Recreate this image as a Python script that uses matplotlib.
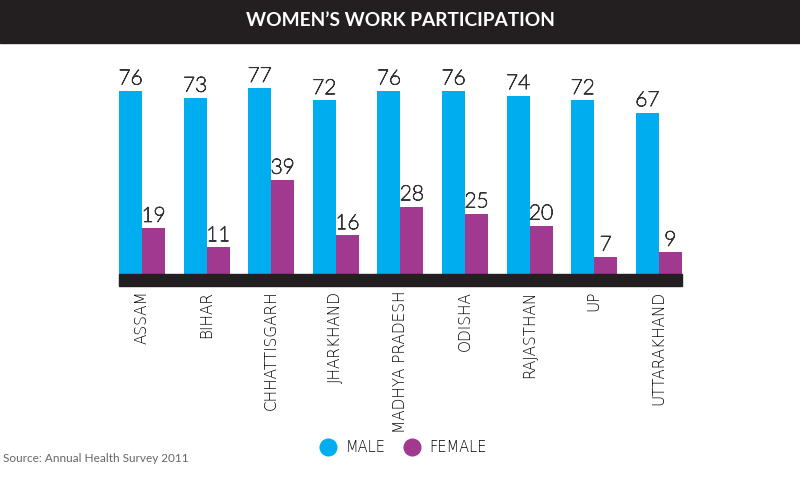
import matplotlib.pyplot as plt
import matplotlib.patheffects as pe
import numpy as np
from matplotlib.lines import Line2D
from matplotlib.patches import Rectangle

plt.rcParams['font.family'] = ['Lato', 'DejaVu Sans']

states = ['ASSAM', 'BIHAR', 'CHHATTISGARH', 'JHARKHAND', 'MADHYA PRADESH',
          'ODISHA', 'RAJASTHAN', 'UP', 'UTTARAKHAND']
male = [76, 73, 77, 72, 76, 76, 74, 72, 67]
female = [19, 11, 39, 16, 28, 25, 20, 7, 9]

male_col = '#00aeef'
female_col = '#a0398f'
dark = '#231f20'

fig = plt.figure(figsize=(8, 5), dpi=100)

# title bar
fig.add_artist(Rectangle((0, 1 - 43 / 500), 1, 43 / 500, transform=fig.transFigure,
                         color=dark, zorder=0))
fig.text(0.5, 1 - 21 / 500, 'WOMEN\u2019S WORK PARTICIPATION', color='white',
         ha='center', va='center', fontsize=13.8, fontweight='bold')

# axes placed so bars line up like the reference
ax = fig.add_axes([100 / 800, 226 / 500, 600 / 800, 224 / 500])
x = np.arange(len(states))
w = 0.356
bm = ax.bar(x - w / 2, male, w, color=male_col)
bf = ax.bar(x + w / 2, female, w, color=female_col)
ax.set_xlim((100 - 142) / 64.6, (700 - 142) / 64.6)
ax.set_ylim(0, 224 / 2.41)

# thin value labels (hairline face thickened a little)
for bars, vals in [(bm, male), (bf, female)]:
    for b, v in zip(bars, vals):
        ax.text(b.get_x() + b.get_width() / 2, v + 1.0, str(v), ha='center', va='bottom',
                fontsize=15, fontweight='light', color='#333333',
                path_effects=[pe.withStroke(linewidth=0.7, foreground='#333333')])

# black base band
fig.add_artist(Rectangle((119 / 800, 214 / 500), 563 / 800, 12 / 500,
                         transform=fig.transFigure, color=dark, zorder=3))

ax.set_xticks(x)
ax.set_xticklabels(states, rotation=90, fontsize=11, color='#000000', va='top',
                   family='DejaVu Sans', fontweight='light')
ax.tick_params(axis='x', length=0, pad=12)
ax.set_yticks([])
for s in ax.spines.values():
    s.set_visible(False)

handles = [Line2D([], [], marker='o', ls='', markersize=12, color=male_col),
           Line2D([], [], marker='o', ls='', markersize=12, color=female_col)]
fig.legend(handles, ['MALE', 'FEMALE'], loc='center', bbox_to_anchor=(0.5, 1 - 448 / 500),
           ncol=2, frameon=False, handletextpad=0.2, columnspacing=0.8,
           prop={'family': 'DejaVu Sans', 'size': 10.5, 'weight': 'light'})
for t in fig.legends[0].get_texts():
    t.set_color('#000000')

fig.text(3 / 800, 1 - 459 / 500, 'Source: Annual Health Survey 2011', fontsize=8.5,
         color='#666666', ha='left', va='center')

fig.savefig('out.png', dpi=100)
